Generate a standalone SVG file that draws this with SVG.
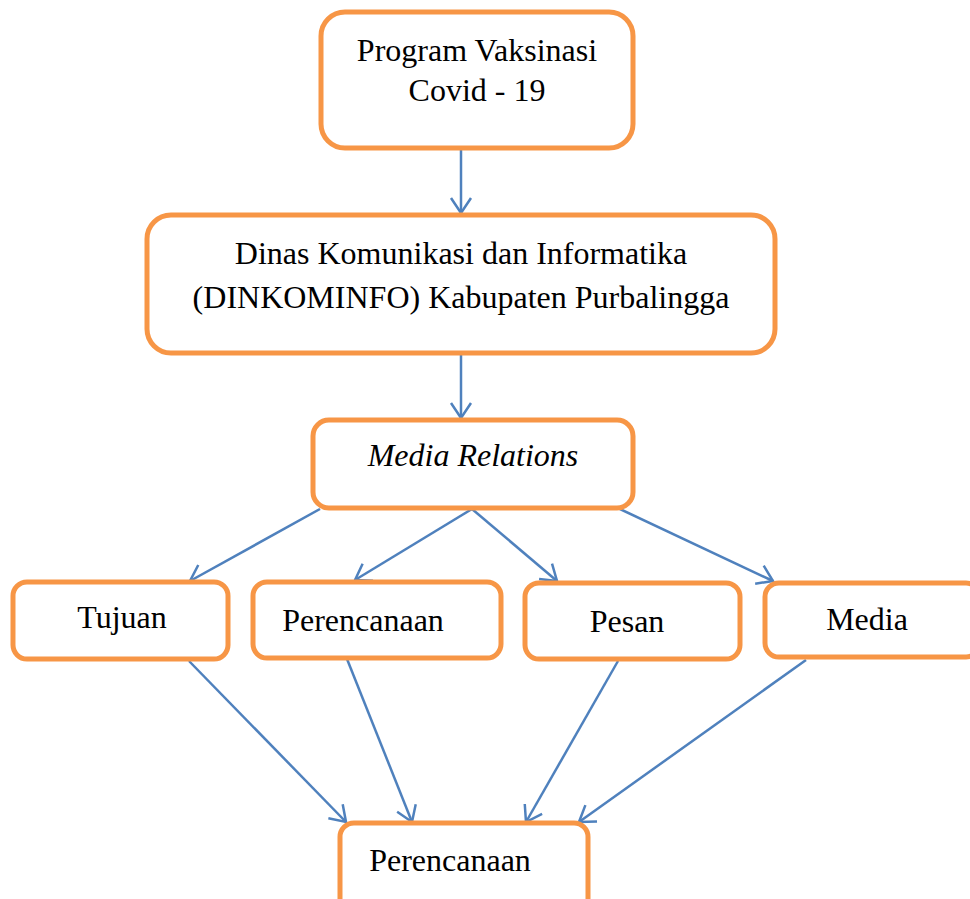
<svg xmlns="http://www.w3.org/2000/svg" width="970" height="899" viewBox="0 0 970 899">
<style>
.box{fill:#fff;stroke:#F79646;stroke-width:5}
.t{font-family:"Liberation Serif","Times New Roman",serif;font-size:32px;fill:#000;text-anchor:middle}
.c{stroke:#4F81BD;stroke-width:2.5;fill:none;marker-end:url(#ah)}
</style>
<defs>
<marker id="ah" markerUnits="userSpaceOnUse" viewBox="-18 -12 20 24" refX="0" refY="0" markerWidth="20" markerHeight="24" orient="auto" overflow="visible">
<path d="M-15,-10 L0,0 L-15,10" fill="none" stroke="#4F81BD" stroke-width="2.5"/>
</marker>
</defs>
<rect width="970" height="899" fill="#fff"/>
<g id="connectors">
<line class="c" x1="461" y1="150" x2="461" y2="213"/>
<line class="c" x1="461" y1="355" x2="461" y2="418"/>
<line class="c" x1="320" y1="509" x2="190" y2="581"/>
<line class="c" x1="472" y1="509" x2="355" y2="580"/>
<line class="c" x1="472" y1="509" x2="557" y2="581"/>
<line class="c" x1="620" y1="509" x2="773" y2="581"/>
<line class="c" x1="189" y1="661" x2="346" y2="822"/>
<line class="c" x1="347" y1="659" x2="412" y2="822"/>
<line class="c" x1="618" y1="661" x2="526" y2="822"/>
<line class="c" x1="806" y1="660" x2="579" y2="822"/>
</g>
<g id="n1">
<rect class="box" x="321" y="12" width="312" height="136" rx="24"/>
<text class="t" x="477" y="61">Program Vaksinasi</text>
<text class="t" x="477" y="101">Covid - 19</text>
</g>
<g id="n2">
<rect class="box" x="147" y="215" width="628" height="138" rx="24"/>
<text class="t" x="461" y="264">Dinas Komunikasi dan Informatika</text>
<text class="t" x="461" y="308">(DINKOMINFO) Kabupaten Purbalingga</text>
</g>
<g id="n3">
<rect class="box" x="313" y="420" width="320" height="88" rx="16"/>
<text class="t" x="473" y="466" font-style="italic">Media Relations</text>
</g>
<g id="n4">
<rect class="box" x="13" y="582" width="215" height="77" rx="14"/>
<text class="t" x="122" y="628">Tujuan</text>
</g>
<g id="n5">
<rect class="box" x="253" y="582" width="248" height="76" rx="14"/>
<text class="t" x="363" y="631">Perencanaan</text>
</g>
<g id="n6">
<rect class="box" x="525" y="583" width="215" height="76" rx="14"/>
<text class="t" x="627" y="632">Pesan</text>
</g>
<g id="n7">
<rect class="box" x="765" y="583" width="215" height="74" rx="14"/>
<text class="t" x="867" y="630">Media</text>
</g>
<g id="n8">
<rect class="box" x="340" y="823" width="248" height="90" rx="14"/>
<text class="t" x="450" y="871">Perencanaan</text>
</g>
</svg>
